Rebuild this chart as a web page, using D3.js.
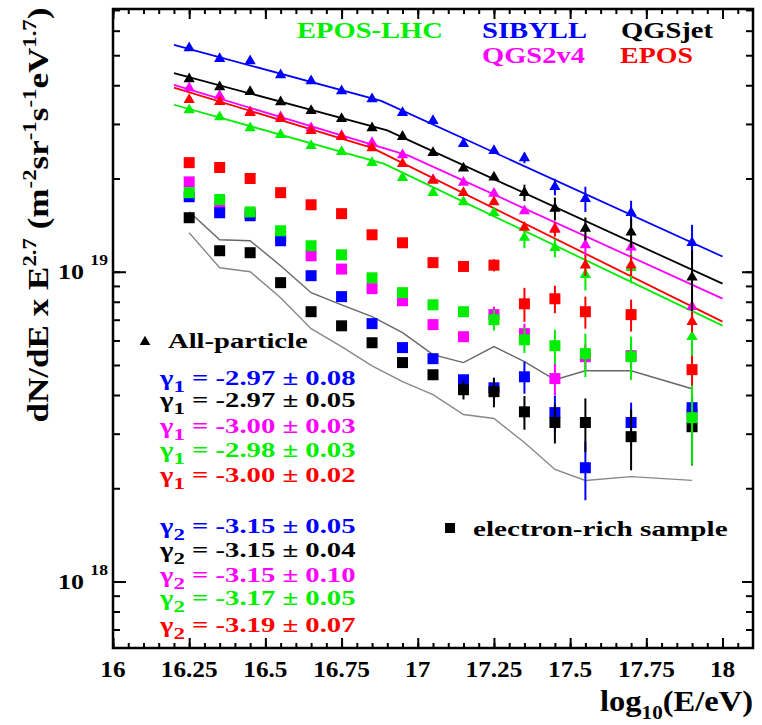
<!DOCTYPE html>
<html>
<head>
<meta charset="utf-8">
<script src="https://cdn.jsdelivr.net/npm/d3@7"></script>
<style>
  body { margin: 0; background: #fff; }
  text { white-space: pre; }
</style>
</head>
<body>
<svg id="chart" width="762" height="725"></svg>
<script>
// energy bins, log10(E/eV)
const energies = [16.25, 16.35, 16.45, 16.55, 16.65, 16.75, 16.85, 16.95, 17.05, 17.15, 17.25, 17.35, 17.45, 17.55, 17.7, 17.9];

// all-particle spectra (units of 1e19)
const allSibyll     = [5.28, 4.87, 4.79, 4.32, 4.13, 3.83, 3.61, 3.26, 3.07, 2.59, 2.46, 2.33, 1.88, 1.72, 1.55, 1.24];
const allSibyllErr  = [0, 0, 0, 0, 0, 0, 0, 0, 0, 0, 0, 0.09, 0.115, 0.16, 0.144, 0.177];
const allQgsjet     = [4.19, 3.95, 3.81, 3.53, 3.31, 3.12, 2.91, 2.73, 2.42, 2.16, 2.02, 1.80, 1.60, 1.38, 1.34, 0.96];
const allQgsjetErr  = [0, 0, 0, 0, 0, 0, 0, 0, 0, 0, 0, 0.11, 0.136, 0.117, 0.147, 0.213];
const allQgs2v4     = [3.92, 3.70, 3.28, 3.16, 2.91, 2.75, 2.61, 2.38, 1.98, 1.94, 1.79, 1.57, 1.38, 1.22, 1.20, 0.771];
const allQgs2v4Err  = [0, 0, 0, 0, 0, 0, 0, 0, 0, 0, 0, 0, 0.073, 0.094, 0.092, 0.091];
const allEpos       = [3.59, 3.54, 3.26, 3.12, 2.85, 2.73, 2.51, 2.23, 1.97, 1.80, 1.68, 1.39, 1.37, 1.05, 1.05, 0.69];
const allEposErr    = [0, 0, 0, 0, 0, 0, 0, 0, 0, 0, 0, 0, 0.073, 0.081, 0.081, 0.053];
const allEposLhc    = [3.33, 3.16, 2.91, 2.77, 2.55, 2.44, 2.25, 2.01, 1.80, 1.68, 1.55, 1.29, 1.195, 0.978, 1.03, 0.617];
const allEposLhcErr = [0, 0, 0, 0, 0, 0, 0, 0, 0, 0, 0, 0.099, 0.082, 0.108, 0.113, 0.126];

// electron-rich sample (units of 1e19)
const erSibyll     = [1.746, 1.55, 1.516, 1.259, 0.971, 0.831, 0.68, 0.569, 0.524, 0.448, 0.422, 0.458, 0.351, 0.233, 0.326, 0.364];
const erSibyllErr  = [0, 0, 0, 0, 0, 0, 0, 0, 0, 0, 0.032, 0.054, 0.047, 0.05, 0.052, 0.028];
const erQgsjet     = [1.494, 1.169, 1.152, 0.922, 0.743, 0.669, 0.59, 0.509, 0.465, 0.416, 0.41, 0.353, 0.326, 0.326, 0.2935, 0.316];
const erQgsjetErr  = [0, 0, 0, 0, 0, 0, 0, 0, 0, 0.029, 0.045, 0.044, 0.047, 0.064, 0.065, 0.079];
const erQgs2v4     = [1.95, 1.62, 1.54, 1.297, 1.126, 1.02, 0.882, 0.806, 0.675, 0.617, 0.727, 0.631, 0.452, 0.532, 0.536, 0.346];
const erQgs2v4Err  = [0, 0, 0, 0, 0, 0, 0, 0, 0, 0, 0.044, 0.049, 0.053, 0.05, 0.05, 0.055];
const erEpos       = [2.25, 2.17, 2.00, 1.80, 1.645, 1.54, 1.316, 1.24, 1.07, 1.04, 1.05, 0.788, 0.818, 0.743, 0.727, 0.483];
const erEposErr    = [0, 0, 0, 0, 0, 0, 0, 0, 0, 0, 0.048, 0.099, 0.083, 0.088, 0.086, 0.053];
const erEposLhc    = [1.80, 1.71, 1.56, 1.356, 1.213, 1.134, 0.956, 0.856, 0.782, 0.743, 0.70, 0.603, 0.577, 0.544, 0.532, 0.338];
const erEposLhcErr = [0, 0, 0, 0, 0, 0, 0, 0, 0, 0, 0.054, 0.056, 0.073, 0.087, 0.085, 0.10];

// grey band around the electron-rich spectrum
const bandUpper = [1.562, 1.268, 1.259, 1.046, 0.856, 0.782, 0.716, 0.636, 0.540, 0.509, 0.573, 0.513, 0.448, 0.479, 0.479, 0.419];
const bandLower = [1.336, 1.030, 1.0, 0.824, 0.655, 0.573, 0.497, 0.442, 0.401, 0.346, 0.336, 0.281, 0.230, 0.212, 0.218, 0.212];

// broken power-law fits: [log10E, flux] at start, knee, end
const fitSibyll  = [[16.2, 5.40], [16.88, 3.56], [18.0, 1.12]];
const fitQgsjet  = [[16.2, 4.38], [16.90, 2.86], [18.0, 0.915]];
const fitQgs2v4  = [[16.2, 4.01], [16.97, 2.37], [18.0, 0.819]];
const fitEpos    = [[16.2, 3.93], [16.85, 2.51], [18.0, 0.69]];
const fitEposLhc = [[16.2, 3.46], [16.89, 2.23], [18.0, 0.67]];

const gamma1 = ["-2.97 \u00b1 0.08", "-2.97 \u00b1 0.05", "-3.00 \u00b1 0.03", "-2.98 \u00b1 0.03", "-3.00 \u00b1 0.02"];
const gamma2 = ["-3.15 \u00b1 0.05", "-3.15 \u00b1 0.04", "-3.15 \u00b1 0.10", "-3.17 \u00b1 0.05", "-3.19 \u00b1 0.07"];

const xMajor = [16, 16.25, 16.5, 16.75, 17, 17.25, 17.5, 17.75, 18];
const xTickLabels = ["16", "16.25", "16.5", "16.75", "17", "17.25", "17.5", "17.75", "18"];
const yMajor = [0.1, 1];
const yTickExp = ["18", "19"];

const green = "#00ee00", blue = "#0000ff", black = "#000000", magenta = "#ff00ff", red = "#ff0000";
const serif = "'Liberation Serif', 'DejaVu Serif', serif";

// draw order: magenta, blue, black, green, red
const series = [
  { color: magenta, all: allQgs2v4, allErr: allQgs2v4Err, er: erQgs2v4, erErr: erQgs2v4Err, fit: fitQgs2v4 },
  { color: blue, all: allSibyll, allErr: allSibyllErr, er: erSibyll, erErr: erSibyllErr, fit: fitSibyll },
  { color: black, all: allQgsjet, allErr: allQgsjetErr, er: erQgsjet, erErr: erQgsjetErr, fit: fitQgsjet },
  { color: green, all: allEposLhc, allErr: allEposLhcErr, er: erEposLhc, erErr: erEposLhcErr, fit: fitEposLhc },
  { color: red, all: allEpos, allErr: allEposErr, er: erEpos, erErr: erEposErr, fit: fitEpos }
];

const svg = d3.select("#chart");
const mLeft = 113, mRight = 753, mTop = 9, mBottom = 648;

const x = d3.scaleLinear().domain([16, 18.1]).range([mLeft, mRight]);
const y = d3.scaleLog().domain([0.061, 7.05]).range([mBottom, mTop]);

// text that gets squeezed/stretched to a measured width
function label(px, py, parts, opt) {
  const g = svg.append("g").attr("transform", `translate(${px},${py})` + (opt.rotate ? ` rotate(${opt.rotate})` : ""));
  const t = g.append("text")
    .attr("font-family", serif)
    .attr("font-weight", "bold")
    .attr("font-size", opt.size)
    .attr("fill", opt.color || "#000")
    .attr("text-anchor", opt.anchor || "start");
  let off = 0;
  parts.forEach(([str, kind]) => {
    const shift = kind === "sup" ? -opt.size * (opt.supShift || 0.4)
                : kind === "sub" ? opt.size * (opt.subShift || 0.3) : 0;
    t.append("tspan")
      .attr("dy", shift - off)
      .attr("font-size", kind ? opt.size * (opt.small || 0.65) : opt.size)
      .text(str);
    off = shift;
  });
  const w = t.node().getBBox().width;
  const sx = opt.width ? opt.width / w : (opt.sx || 1);
  t.attr("transform", `scale(${sx},1)`);
  return g;
}

// fit lines
const line = d3.line().x(d => x(d[0])).y(d => y(d[1]));
series.forEach(s => {
  svg.append("path")
    .datum(s.fit)
    .attr("fill", "none")
    .attr("stroke", s.color)
    .attr("stroke-width", 1.8)
    .attr("d", line);
});

// grey band
[[bandUpper, "#666"], [bandLower, "#888"]].forEach(([vals, c]) => {
  svg.append("path")
    .datum(energies.map((e, i) => [e, vals[i]]))
    .attr("fill", "none")
    .attr("stroke", c)
    .attr("stroke-width", 1.4)
    .attr("d", line);
});

const tri = d3.symbol(d3.symbolTriangle, 55);
const sq = d3.symbol(d3.symbolSquare, 121);

series.forEach(s => {
  [[s.er, s.erErr, sq], [s.all, s.allErr, tri]].forEach(([vals, errs, sym]) => {
    const g = svg.append("g");
    g.selectAll("line")
      .data(energies.map((e, i) => ({ e, v: vals[i], err: errs[i] })).filter(d => d.err > 0))
      .join("line")
      .attr("x1", d => x(d.e)).attr("x2", d => x(d.e))
      .attr("y1", d => y(d.v - d.err)).attr("y2", d => y(d.v + d.err))
      .attr("stroke", s.color)
      .attr("stroke-width", 2);
    g.selectAll("path")
      .data(energies.map((e, i) => ({ e, v: vals[i] })))
      .join("path")
      .attr("d", sym)
      .attr("transform", d => `translate(${x(d.e)},${y(d.v)})`)
      .attr("fill", s.color);
  });
});

// axes: ticks on all four sides, pointing inward
const xMinor = d3.range(0, 42).map(i => 16 + i * 0.05);
const yMinor = y.ticks();

function ticks(axis, pos, size) {
  svg.append("g")
    .attr("transform", pos)
    .call(axis.tickSize(size).tickFormat(""))
    .call(g => g.select(".domain").remove())
    .call(g => g.selectAll("line").attr("stroke", "#000").attr("stroke-width", 2));
}
ticks(d3.axisBottom(x).tickValues(xMinor), `translate(0,${mBottom})`, -5);
ticks(d3.axisBottom(x).tickValues(xMajor), `translate(0,${mBottom})`, -10);
ticks(d3.axisTop(x).tickValues(xMinor), `translate(0,${mTop})`, -5);
ticks(d3.axisTop(x).tickValues(xMajor), `translate(0,${mTop})`, -10);
ticks(d3.axisLeft(y).tickValues(yMinor), `translate(${mLeft},0)`, -7);
ticks(d3.axisLeft(y).tickValues(yMajor), `translate(${mLeft},0)`, -13);
ticks(d3.axisRight(y).tickValues(yMinor), `translate(${mRight},0)`, -7);
ticks(d3.axisRight(y).tickValues(yMajor), `translate(${mRight},0)`, -11);

svg.append("rect")
  .attr("x", mLeft).attr("y", mTop)
  .attr("width", mRight - mLeft).attr("height", mBottom - mTop)
  .attr("fill", "none")
  .attr("stroke", "#000")
  .attr("stroke-width", 2.5);

// tick labels
xMajor.forEach((v, i) => {
  label(x(v), 677, [[xTickLabels[i]]], { size: 23, anchor: "middle", sx: 1.1 });
});
yMajor.forEach((v, i) => {
  label(58, y(v) + 7, [["10 "], [yTickExp[i], "sup"]], { size: 22, width: 50, supShift: 0.62, small: 0.68 });
});

// axis titles
label(753, 711, [["log"], ["10", "sub"], ["(E/eV)"]], { size: 30, anchor: "end", width: 153, subShift: 0.25 });
label(48, 215, [["dN/dE x E"], ["2.7", "sup"], [" (m"], ["-2", "sup"], ["sr"], ["-1", "sup"], ["s"], ["-1", "sup"], ["eV"], ["1.7", "sup"], [")"]],
  { size: 30, anchor: "middle", width: 415, rotate: -90 });

// model legend
label(297, 38, [["EPOS-LHC"]], { size: 24, color: green, width: 146 });
label(482, 38, [["SIBYLL"]], { size: 24, color: blue, width: 105 });
label(621, 38, [["QGSjet"]], { size: 24, color: black, width: 92 });
label(482, 63, [["QGS2v4"]], { size: 24, color: magenta, width: 103 });
label(620, 63, [["EPOS"]], { size: 24, color: red, width: 73 });

// sample legend
svg.append("path").attr("d", d3.symbol(d3.symbolTriangle, 50)).attr("transform", "translate(145,342)").attr("fill", "#000");
label(168, 348, [["All-particle"]], { size: 22, width: 140 });
svg.append("path").attr("d", d3.symbol(d3.symbolSquare, 100)).attr("transform", "translate(450,528)").attr("fill", "#000");
label(473, 536, [["electron-rich sample"]], { size: 22, width: 255 });

// slopes, listed in the order SIBYLL, QGSjet, QGS2v4, EPOS-LHC, EPOS
const gammaColors = [blue, black, magenta, green, red];
const g1Base = [385, 407, 433, 457, 482];
const g2Base = [533, 557, 582, 605, 632];
gamma1.forEach((txt, i) => {
  label(160, g1Base[i], [["\u03b3"], ["1", "sub"], [" = " + txt]], { size: 22, color: gammaColors[i], width: 197, subShift: 0.3, small: 0.8 });
});
gamma2.forEach((txt, i) => {
  label(160, g2Base[i], [["\u03b3"], ["2", "sub"], [" = " + txt]], { size: 22, color: gammaColors[i], width: 197, subShift: 0.3, small: 0.8 });
});
</script>
</body>
</html>
